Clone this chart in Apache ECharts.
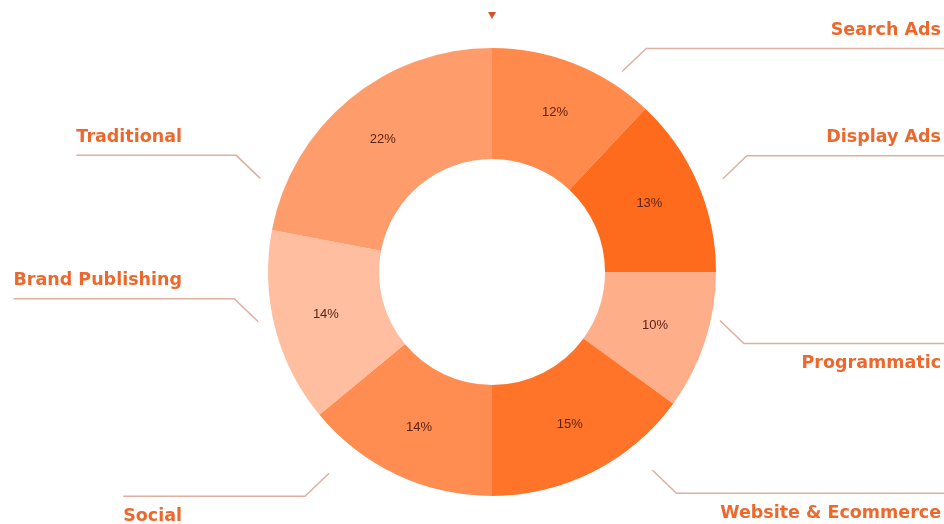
<!DOCTYPE html>
<html><head><meta charset="utf-8">
<script src="https://cdn.jsdelivr.net/npm/echarts@6/dist/echarts.min.js"></script>
<style>html,body{margin:0;padding:0;background:#fff}#c{width:944px;height:524px}</style>
</head><body><div id="c"></div>
<script>
// ---- data ----
const categories = ['Search Ads', 'Display Ads', 'Programmatic', 'Website & Ecommerce', 'Social', 'Brand Publishing', 'Traditional'];
const shares = [12, 13, 10, 15, 14, 14, 22];

// ---- styles / layout ----
const sliceColors = ['#FF8A4B', '#FF6B1C', '#FFAE8A', '#FF7428', '#FF8C50', '#FFBE9F', '#FF9C6B'];
const CX = 492, CY = 272, R_IN = 113, R_OUT = 224;
// leader line: [angle from top (deg), start radius, vertical direction of bend]
const leaderLayout = [[33, 239, -1], [68, 249, -1], [102, 233, 1], [141, 255, 1], [219, 259, 1], [258, 239, -1], [292, 250, -1]];

const data = categories.map((n, i) => ({ name: n, value: shares[i], itemStyle: { color: sliceColors[i] } }));

const chart = echarts.init(document.getElementById('c'), null, { renderer: 'canvas' });
chart.setOption({
  backgroundColor: '#ffffff',
  animation: false,
  graphic: [{
    type: 'polygon',
    shape: { points: [[CX - 4, 12], [CX + 4, 12], [CX, 19]] },
    style: { fill: '#D2552A' }
  }],
  series: [
    {
      type: 'pie',
      center: [CX, CY],
      radius: [R_IN, R_OUT],
      startAngle: 90,
      clockwise: true,
      silent: true,
      emphasis: { disabled: true },
      data: data,
      label: {
        show: true,
        position: 'inside',
        formatter: '{c}%',
        color: '#5A2418',
        fontSize: 13,
        fontFamily: 'Liberation Sans'
      },
      labelLine: { show: false }
    },
    {
      type: 'pie',
      center: [CX, CY],
      radius: [R_IN, R_OUT],
      startAngle: 90,
      clockwise: true,
      silent: true,
      avoidLabelOverlap: false,
      emphasis: { disabled: true },
      data: categories.map((n, i) => ({ name: n, value: shares[i] })),
      itemStyle: { color: 'rgba(0,0,0,0)' },
      label: {
        show: true,
        position: 'outside',
        formatter: '{b}',
        color: '#EC682C',
        fontSize: 17.5,
        fontWeight: 'bold',
        fontFamily: 'DejaVu Sans'
      },
      labelLine: { show: true, lineStyle: { color: '#DDB09F', width: 1.5 } },
      labelLayout: function (p) {
        const L = leaderLayout[p.dataIndex];
        const t = L[0] * Math.PI / 180;
        const sx = CX + L[1] * Math.sin(t), sy = CY - L[1] * Math.cos(t);
        const right = L[0] < 180;
        const bx = sx + (right ? 24 : -24), by = sy + L[2] * 23;
        const ly = by + L[2] * 19 + 1;
        const w = p.labelRect.width;
        if (right) {
          return { x: 941, y: ly, align: 'right', verticalAlign: 'middle',
                   labelLinePoints: [[sx, sy], [bx, by], [950, by]] };
        }
        return { x: 182, y: ly, align: 'right', verticalAlign: 'middle',
                 labelLinePoints: [[sx, sy], [bx, by], [182 - w, by]] };
      }
    }
  ]
});
</script>
</body></html>
